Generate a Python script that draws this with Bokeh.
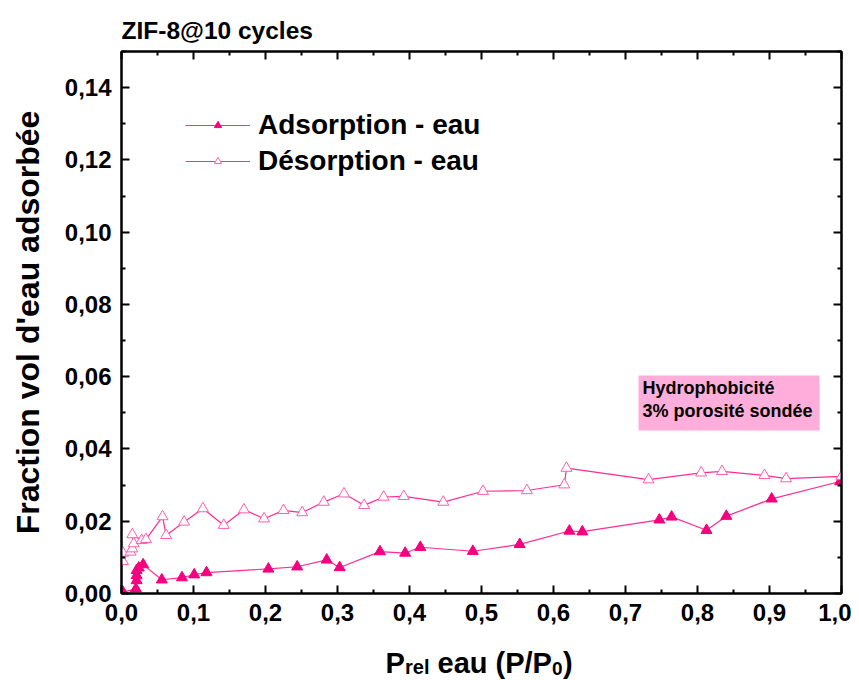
from bokeh.plotting import figure
from bokeh.layouts import column
from bokeh.models import (Range1d, LinearAxis, FixedTicker, CustomJSTickFormatter,
                          Label, BoxAnnotation, Legend, LegendItem)
from bokeh.core.properties import value
from bokeh.embed import file_html
from bokeh.resources import INLINE

# ---------------- data ----------------
ads_x = [0.002, 0.020, 0.021, 0.021, 0.021, 0.024, 0.030, 0.056, 0.084, 0.101, 0.118,
         0.204, 0.244, 0.285, 0.303, 0.359, 0.394, 0.415, 0.488, 0.553, 0.622, 0.640,
         0.747, 0.764, 0.8125, 0.840, 0.903, 0.998]
ads_y = [0.0004, 0.0013, 0.0036, 0.0050, 0.0064, 0.0071, 0.0080, 0.0038, 0.0044, 0.0052,
         0.0058, 0.0068, 0.0074, 0.0093, 0.0072, 0.0116, 0.0112, 0.0128, 0.0117, 0.0136,
         0.0173, 0.0171, 0.0204, 0.0212, 0.0175, 0.0214, 0.0262, 0.0310]

des_x = [0.002, 0.002, 0.0125, 0.015, 0.017, 0.015, 0.028, 0.034, 0.057, 0.062, 0.087,
         0.113, 0.142, 0.170, 0.198, 0.225, 0.251, 0.281, 0.309, 0.337, 0.364, 0.392,
         0.447, 0.502, 0.563, 0.615, 0.618, 0.732, 0.805, 0.834, 0.893, 0.923, 1.0]
des_y = [0.0089, 0.0112, 0.0115, 0.0124, 0.0138, 0.0163, 0.0147, 0.0150, 0.0213, 0.0161,
         0.0198, 0.0235, 0.0189, 0.0232, 0.0207, 0.0230, 0.0224, 0.0253, 0.0276, 0.0244,
         0.0267, 0.0269, 0.0253, 0.0283, 0.0285, 0.0301, 0.0347, 0.0315, 0.0334, 0.0338,
         0.0327, 0.0318, 0.0324]

x_ticks = [0.0, 0.1, 0.2, 0.3, 0.4, 0.5, 0.6, 0.7, 0.8, 0.9, 1.0]
x_tick_labels = ["0,0", "0,1", "0,2", "0,3", "0,4", "0,5", "0,6", "0,7", "0,8", "0,9", "1,0"]
x_minor = [0.05, 0.15, 0.25, 0.35, 0.45, 0.55, 0.65, 0.75, 0.85, 0.95]
y_ticks = [0.0, 0.02, 0.04, 0.06, 0.08, 0.10, 0.12, 0.14]
y_tick_labels = ["0,00", "0,02", "0,04", "0,06", "0,08", "0,10", "0,12", "0,14"]
y_minor = [0.01, 0.03, 0.05, 0.07, 0.09, 0.11, 0.13, 0.15]

title_text = "ZIF-8@10 cycles"
y_label = "Fraction vol d'eau adsorbée"
series_names = ["Adsorption - eau", "Désorption - eau"]
note_lines = ["Hydrophobicité", "3% porosité sondée"]
x_label_pieces = ["P", "rel", "eau (P/P", "0", ")"]

# ---------------- styles ----------------
FONT = "Liberation Sans"
ADS = "#F5007F"
DES = "#FF5FAF"
LINE = "#FF2C96"
NOTE_BG = "#FFAEDB"
W = 851
LEFT = 121
RIGHT = 10

def strip_fig(height):
    f = figure(width=W, height=height, output_backend="svg", toolbar_location=None,
               x_range=Range1d(0, 1), y_range=Range1d(0, 1),
               x_axis_location=None, y_axis_location=None,
               min_border_left=LEFT, min_border_right=RIGHT,
               min_border_top=0, min_border_bottom=0)
    f.title.visible = False
    f.xgrid.visible = False
    f.ygrid.visible = False
    f.outline_line_color = None
    return f

# title strip (page y 0..46)
t = strip_fig(46)
t.add_layout(Label(x=0.0, y=0.348, text=title_text, text_font=FONT,
                   text_font_style="bold", text_font_size="24.5px", text_color="black",
                   text_align="left", text_baseline="middle"))

# main plot (page y 46..634, frame 51..593)
p = figure(width=W, height=588, output_backend="svg", toolbar_location=None,
           x_range=Range1d(0, 1), y_range=Range1d(0, 0.15),
           min_border_left=LEFT, min_border_right=RIGHT, min_border_top=5,
           min_border_bottom=41, background_fill_color="white",
           border_fill_color="white")
p.title.visible = False
p.xgrid.visible = False
p.ygrid.visible = False
p.outline_line_color = "black"
p.outline_line_width = 2

def style_axis(ax, ticks, minor, labels, decimals, show):
    ax.ticker = FixedTicker(ticks=ticks, minor_ticks=minor)
    ax.axis_line_width = 2
    ax.axis_line_color = "black"
    ax.major_tick_in = 8
    ax.major_tick_out = 0
    ax.minor_tick_in = 4
    ax.minor_tick_out = 0
    ax.major_tick_line_width = 2
    ax.minor_tick_line_width = 2
    ax.major_tick_line_color = "black"
    ax.minor_tick_line_color = "black"
    if show:
        ax.major_label_overrides = {t_: l for t_, l in zip(ticks, labels)}
        ax.formatter = CustomJSTickFormatter(
            code="return tick.toFixed(%d).replace('.', ',');" % decimals)
        ax.major_label_text_font = FONT
        ax.major_label_text_font_style = "bold"
        ax.major_label_text_font_size = "24px"
        ax.major_label_text_color = "black"
    else:
        ax.formatter = CustomJSTickFormatter(code="return '';")
        ax.major_label_text_font_size = "0px"
        ax.major_label_standoff = 0

xa = p.xaxis[0]
ya = p.yaxis[0]
style_axis(xa, x_ticks, x_minor, x_tick_labels, 1, True)
style_axis(ya, y_ticks, y_minor, y_tick_labels, 2, True)
xa.major_label_standoff = 10
ya.major_label_standoff = 10
ya.axis_label = y_label
ya.axis_label_text_font = FONT
ya.axis_label_text_font_style = "bold"
ya.axis_label_text_font_size = "32px"
ya.axis_label_text_color = "black"
ya.axis_label_standoff = 16

top_ax = LinearAxis()
right_ax = LinearAxis()
style_axis(top_ax, x_ticks, x_minor, x_tick_labels, 1, False)
style_axis(right_ax, y_ticks, y_minor, y_tick_labels, 2, False)
p.add_layout(top_ax, "above")
p.add_layout(right_ax, "right")

# ---------------- series ----------------
ads_line = p.line(ads_x, ads_y, line_color=LINE, line_width=1.2)
ads_pts = p.scatter(ads_x, ads_y, marker="triangle", size=11,
                    fill_color=ADS, line_color=ADS, line_width=1)
des_line = p.line(des_x, des_y, line_color=LINE, line_width=1.2)
des_pts = p.scatter(des_x, des_y, marker="triangle", size=11,
                    fill_color="white", line_color=DES, line_width=1)

legend = Legend(items=[LegendItem(label=value(series_names[0]), renderers=[ads_line, ads_pts]),
                       LegendItem(label=value(series_names[1]), renderers=[des_line, des_pts])],
                location=(64, 416), glyph_width=65, glyph_height=18, label_standoff=8,
                padding=0, margin=0, spacing=4, border_line_color=None,
                background_fill_alpha=0, label_text_font=FONT,
                label_text_font_style="bold", label_text_font_size="28px",
                label_text_color="black", label_text_baseline="middle")
p.add_layout(legend)

# ---------------- annotation box ----------------
p.add_layout(BoxAnnotation(left=0.718, right=0.9694, bottom=0.0451, top=0.0603,
                           fill_color=NOTE_BG, fill_alpha=1, line_color=None))
p.add_layout(Label(x=0.7236, y=0.0570, text=note_lines[0], text_font=FONT,
                   text_font_style="bold", text_font_size="18px", text_color="black",
                   text_align="left", text_baseline="middle"))
p.add_layout(Label(x=0.7236, y=0.0504, text=note_lines[1], text_font=FONT,
                   text_font_style="bold", text_font_size="18px", text_color="black",
                   text_align="left", text_baseline="middle"))

# x-axis label strip (page y 634..680)
q = strip_fig(46)
xl_x = 0.3667
big_y = 0.370
rel_y = 0.304
sub_y = 0.262
specs = [(0, big_y, "29px"), (19.5, rel_y, "20px"), (52, big_y, "29px"),
         (166.4, sub_y, "19px"), (177.5, big_y, "29px")]
for txt, (off, yy, fs) in zip(x_label_pieces, specs):
    q.add_layout(Label(x=xl_x, y=yy, x_offset=off, text=txt, text_font=FONT,
                       text_font_style="bold", text_font_size=fs, text_color="black",
                       text_align="left", text_baseline="middle"))

layout = column(t, p, q, spacing=0)
open("out.html", "w").write(file_html(layout, INLINE))
